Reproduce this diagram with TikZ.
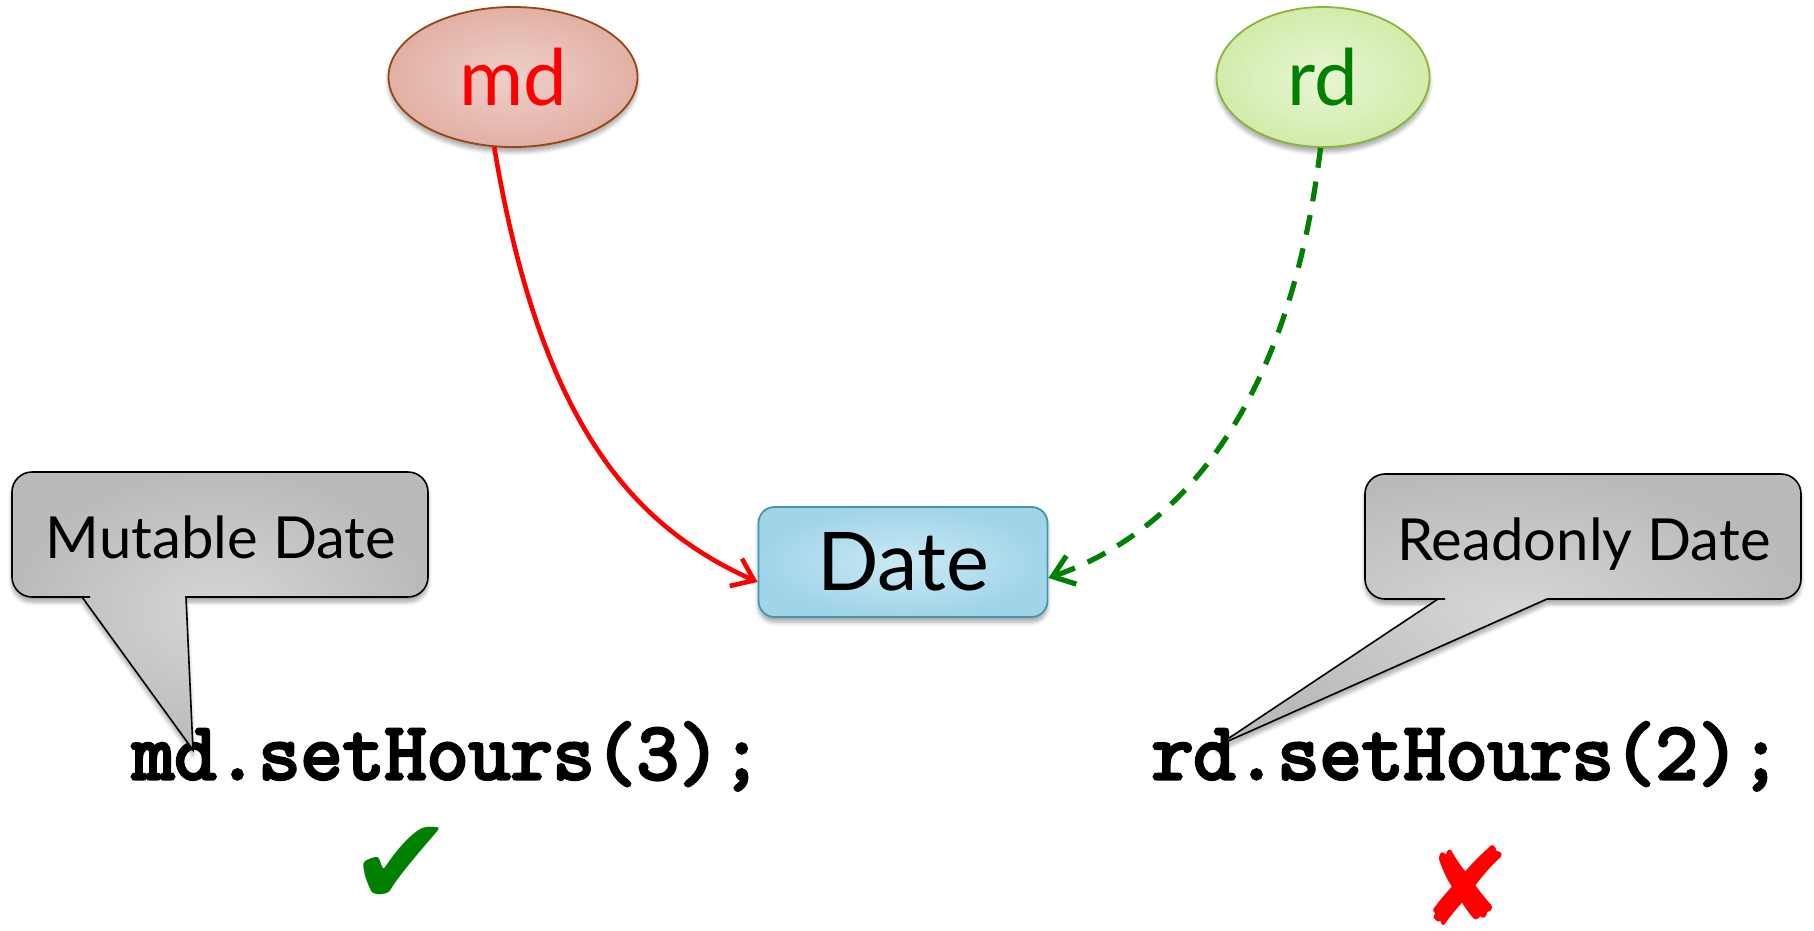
\documentclass[tikz,border=0pt]{standalone}
\usepackage{fontspec}
\setmainfont{Lato}
\newfontfamily\symfont{DejaVu Sans}
\newfontfamily\codefont{Latin Modern Mono}[FakeBold=4,BoldFont=*,BoldFeatures={FakeBold=4}]
\usetikzlibrary{shapes.geometric,shadows,shadows.blur,arrows.meta}

\definecolor{mdIn}{RGB}{238,208,200}
\definecolor{mdOut}{RGB}{226,176,165}
\definecolor{mdLine}{RGB}{150,70,20}
\definecolor{rdIn}{RGB}{232,246,212}
\definecolor{rdOut}{RGB}{210,235,170}
\definecolor{rdLine}{RGB}{140,180,60}
\definecolor{dateIn}{RGB}{202,233,244}
\definecolor{dateOut}{RGB}{160,212,232}
\definecolor{dateLine}{RGB}{70,150,170}
\definecolor{calloutIn}{RGB}{214,214,214}
\definecolor{calloutOut}{RGB}{186,186,186}
\definecolor{okgreen}{RGB}{0,128,0}
\definecolor{badred}{RGB}{255,0,0}

\tikzset{
  softshadow/.style={blur shadow={shadow xshift=0pt,shadow yshift=-2.5pt,
      shadow blur steps=6,shadow opacity=35}},
  varnode/.style={ellipse,inner sep=0pt,line width=0.9pt,softshadow,
      minimum height=70pt,font=\fontsize{39pt}{44pt}\selectfont},
  objbox/.style={rectangle,rounded corners=8pt,inner sep=0pt,line width=0.9pt,
      softshadow,minimum width=144.5pt,minimum height=55pt,
      draw=dateLine,inner color=dateIn,outer color=dateOut,
      font=\fontsize{40.5pt}{46pt}\selectfont},
  callout/.style={draw=black,line width=0.8pt,softshadow,
      inner color=calloutIn,outer color=calloutOut},
  calloutlabel/.style={inner sep=0pt,anchor=base,
      font=\fontsize{29pt}{34pt}\selectfont},
  codeline/.style={inner sep=0pt,anchor=base west,
      font=\codefont\fontsize{40.8pt}{46pt}\selectfont},
  ref/.style={line width=2.3pt,-{Straight Barb[length=10pt,width=15pt]}},
  verdict/.style={inner sep=0pt,font=\symfont\fontsize{62pt}{66pt}\selectfont}
}

\begin{document}
\begin{tikzpicture}[x=0.5pt,y=-0.5pt]
\useasboundingbox (0,0) rectangle (1814,931);

% variables and the shared object
\node[varnode,minimum width=124.5pt,draw=mdLine,inner color=mdIn,outer color=mdOut,
      text=badred] (md) at (513,77) {md};
\node[varnode,minimum width=106.5pt,draw=rdLine,inner color=rdIn,outer color=rdOut,
      text=okgreen] (rd) at (1323,77) {rd};
\node[objbox] (date) at (903,562) {Date};

% references
\draw[ref,badred] (md.255) .. controls (540,420) and (630,525) .. ([yshift=-10pt]date.west);
\draw[ref,okgreen,line width=2.6pt,dash pattern=on 10pt off 7pt] (rd.268) .. controls (1290,400) and (1185,530) .. ([yshift=-8pt]date.east);

% calls
\node[codeline] (mcall) at (132,779) {md.setHours(3);};
\node[codeline] (rcall) at (1151,779) {rd.setHours(2);};
\coordinate (mtip) at (193,750);
\coordinate (rtip) at (1217,746);

% callouts
\path[callout] (250,472) [rounded corners=10pt] -- (12,472) -- (12,597) -- (70,597)
  [sharp corners] -- (82,597) -- (mtip) -- (186,597) -- (200,597)
  [rounded corners=10pt] -- (428,597) -- (428,472) -- cycle;
\node[calloutlabel] (mlabel) at (221,558) {Mutable Date};

\path[callout] (1500,474) [rounded corners=10pt] -- (1365,474) -- (1365,599) -- (1425,599)
  [sharp corners] -- (1438,599) -- (rtip) -- (1547,599) -- (1560,599)
  [rounded corners=10pt] -- (1801,599) -- (1801,474) -- cycle;
\node[calloutlabel] (rlabel) at (1584,560) {Readonly Date};

% verdicts
\node[verdict,text=okgreen] (ok) at (401,866) {✔};
\node[verdict,text=badred,font=\symfont\fontsize{54pt}{60pt}\selectfont] (bad) at (1466,886) {✘};
\end{tikzpicture}
\end{document}
